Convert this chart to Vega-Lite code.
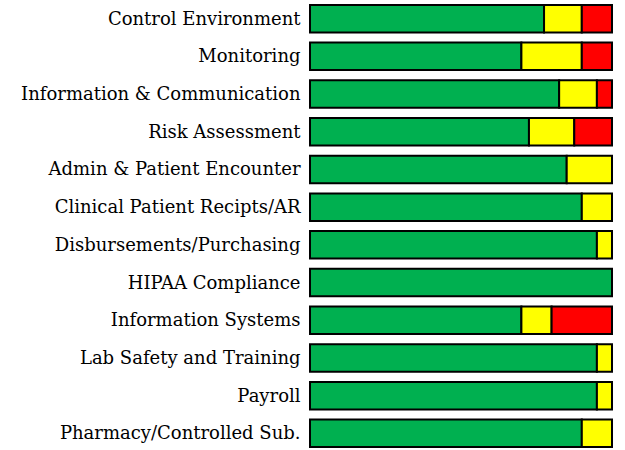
{
  "$schema": "https://vega.github.io/schema/vega-lite/v6.json",
  "width": 302,
  "height": 452,
  "autosize": "none",
  "padding": {"left": 310, "top": 0, "right": 13, "bottom": 0},
  "config": {"view": {"stroke": null}},
  "data": {"values": [
    {"area": "Control Environment", "status": "Green", "rank": 1, "pct": 77.5},
    {"area": "Control Environment", "status": "Yellow", "rank": 2, "pct": 12.5},
    {"area": "Control Environment", "status": "Red", "rank": 3, "pct": 10},
    {"area": "Monitoring", "status": "Green", "rank": 1, "pct": 70},
    {"area": "Monitoring", "status": "Yellow", "rank": 2, "pct": 20},
    {"area": "Monitoring", "status": "Red", "rank": 3, "pct": 10},
    {"area": "Information & Communication", "status": "Green", "rank": 1, "pct": 82.5},
    {"area": "Information & Communication", "status": "Yellow", "rank": 2, "pct": 12.5},
    {"area": "Information & Communication", "status": "Red", "rank": 3, "pct": 5},
    {"area": "Risk Assessment", "status": "Green", "rank": 1, "pct": 72.5},
    {"area": "Risk Assessment", "status": "Yellow", "rank": 2, "pct": 15},
    {"area": "Risk Assessment", "status": "Red", "rank": 3, "pct": 12.5},
    {"area": "Admin & Patient Encounter", "status": "Green", "rank": 1, "pct": 85},
    {"area": "Admin & Patient Encounter", "status": "Yellow", "rank": 2, "pct": 15},
    {"area": "Clinical Patient Recipts/AR", "status": "Green", "rank": 1, "pct": 90},
    {"area": "Clinical Patient Recipts/AR", "status": "Yellow", "rank": 2, "pct": 10},
    {"area": "Disbursements/Purchasing", "status": "Green", "rank": 1, "pct": 95},
    {"area": "Disbursements/Purchasing", "status": "Yellow", "rank": 2, "pct": 5},
    {"area": "HIPAA Compliance", "status": "Green", "rank": 1, "pct": 100},
    {"area": "Information Systems", "status": "Green", "rank": 1, "pct": 70},
    {"area": "Information Systems", "status": "Yellow", "rank": 2, "pct": 10},
    {"area": "Information Systems", "status": "Red", "rank": 3, "pct": 20},
    {"area": "Lab Safety and Training", "status": "Green", "rank": 1, "pct": 95},
    {"area": "Lab Safety and Training", "status": "Yellow", "rank": 2, "pct": 5},
    {"area": "Payroll", "status": "Green", "rank": 1, "pct": 95},
    {"area": "Payroll", "status": "Yellow", "rank": 2, "pct": 5},
    {"area": "Pharmacy/Controlled Sub.", "status": "Green", "rank": 1, "pct": 90},
    {"area": "Pharmacy/Controlled Sub.", "status": "Yellow", "rank": 2, "pct": 10}
  ]},
  "mark": {"type": "bar", "stroke": "#000000", "strokeWidth": 2},
  "encoding": {
    "y": {
      "field": "area", "type": "nominal", "sort": null, "title": null,
      "scale": {"paddingInner": 0.27, "paddingOuter": 0.13},
      "axis": {"domain": false, "ticks": false, "labelPadding": 10, "labelFont": "DejaVu Serif", "labelFontSize": 18, "labelColor": "#000000", "labelLimit": 320, "labelOffset": 1}
    },
    "x": {
      "field": "pct", "type": "quantitative", "stack": "zero",
      "scale": {"domain": [0, 100]}, "axis": null
    },
    "color": {
      "field": "status", "type": "nominal", "legend": null,
      "scale": {"domain": ["Green", "Yellow", "Red"], "range": ["#00B050", "#FFFF00", "#FF0000"]}
    },
    "order": {"field": "rank", "type": "quantitative"}
  }
}
